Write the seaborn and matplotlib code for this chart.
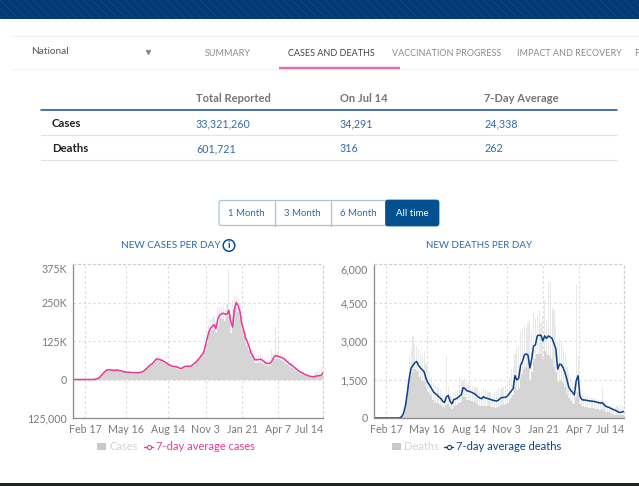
import numpy as np
import matplotlib
matplotlib.use('Agg')
import matplotlib.pyplot as plt
from matplotlib.patches import Rectangle, FancyBboxPatch, Circle
from matplotlib.lines import Line2D
import seaborn as sns

sns.set_style('white')
plt.rcParams['font.family'] = ['Lato', 'DejaVu Sans']
plt.rcParams['hatch.linewidth'] = 0.6

# all series sampled every 4 days from Jan 22 2020, thousands for cases
cases_avg = [0,0,0,0,0,0,0,0,0,0,
             0,0,1,2.5,5,11,18,25,30,32,
             31,30,30,30,31,29,28,26,24,24,
             23.5,23,22,22,22,22,23,24,27,32,
             38,44,48,53,60,67,66,64,62,59,
             55,51,47,44,42,42,41,38,35,38,
             41,43,43,42,45,50,55,61,68,76,
             82,100,125,150,165,172,178,165,195,208,
             213,215,212,212,225,190,170,230,250,240,
             220,180,160,135,122,105,85,75,64,64,
             65,66,63,58,53,52,52,58,70,77,
             77,74,72,70,66,60,55,50,46,41,
             36,31,26,23,20,17,14,12,10,9,
             9,11,12,13,14,24]
cases_low = [0,0,0,0,0,0,0,0,0,0,
             0,0,1,2,4,9,16,23,28,30,
             29,27,28,27,29,26,24,23,21,21,
             20,20,19,19,19,20,20,21,24,29,
             35,40,45,50,56,62,62,60,57,54,
             50,46,42,40,37,37,35,32,30,33,
             36,38,38,38,40,45,50,56,62,70,
             76,92,115,138,155,160,165,150,175,195,
             200,195,190,205,215,150,200,225,235,220,
             195,160,140,120,110,92,75,65,55,55,
             55,57,54,49,45,44,45,49,60,66,
             68,65,62,60,55,50,46,40,37,33,
             29,25,21,18,16,13,11,9,7,6,
             8,8,10,11,11,16]
cases_high = [0,0,0,0,0,0,0,0,0,0,
              0,0,1,3,6,13,20,28,33,35,
              34,33,33,33,34,32,31,29,27,27,
              26,26,25,25,25,25,26,27,31,36,
              42,48,53,58,66,74,72,70,67,64,
              60,56,52,49,47,47,46,42,40,43,
              46,48,48,47,51,56,62,68,76,85,
              92,112,140,175,200,195,205,190,235,235,
              235,240,230,245,360,205,255,270,275,265,
              240,205,180,150,135,120,100,95,85,80,
              80,78,75,68,62,60,62,100,85,172,
              90,88,85,80,75,70,62,56,52,46,
              42,36,30,26,24,20,18,16,14,14,
              18,24,26,30,40,45]

deaths_avg = [0,0,0,0,0,0,0,0,0,0,
              0,0,0,0,10,60,200,500,1000,1550,
              1950,2050,2150,2200,2050,1950,1880,1800,1550,1380,
              1280,1150,1020,950,900,820,760,660,600,820,
              880,650,550,720,740,780,850,900,1180,1150,
              1060,1050,1020,990,950,900,830,780,750,830,
              780,770,740,720,690,680,660,690,760,800,
              800,810,860,960,1050,1150,1650,1480,1550,2050,
              2200,2450,2500,2450,1950,2300,2800,2850,3200,3230,
              3220,3000,3200,3100,3200,3150,3100,2900,2700,1900,
              2100,2080,1950,1750,1500,1200,1080,1000,900,1450,
              1650,850,720,700,700,680,670,660,650,640,
              620,600,580,600,520,450,430,400,360,330,
              300,270,220,220,240,262]
deaths_low = [0,0,0,0,0,0,0,0,0,0,
              0,0,0,0,5,40,150,380,800,1250,
              1650,1800,1900,1850,1700,1600,1500,1450,1200,1000,
              950,850,720,640,600,560,500,420,380,520,
              560,420,360,480,500,520,580,620,800,820,
              720,700,680,650,620,580,520,480,470,520,
              480,470,450,430,410,400,390,410,470,500,
              520,560,580,680,780,900,1200,1100,1150,1550,
              1700,1900,2000,1950,1450,1800,2200,2300,2500,2500,
              2500,2300,2600,2500,2450,2400,2300,2000,1800,1400,
              1500,1500,1400,1200,950,780,650,600,550,800,
              1000,550,450,420,430,420,400,390,380,370,
              350,340,320,350,280,230,220,200,170,150,
              130,120,100,100,110,130]
deaths_high = [0,0,0,0,0,0,0,0,0,0,
               0,0,0,0,15,90,300,700,1500,2400,
               2700,3200,2900,2800,2700,2500,2400,2600,2100,1900,
               1800,1600,1400,1300,1250,1150,1100,950,900,2400,
               1250,950,800,1000,1050,1100,1600,1400,1500,1550,
               1400,1350,1300,1250,1200,1200,1150,1050,1000,1150,
               1100,1050,1000,1000,950,1000,1050,1150,1100,1150,
               1200,1250,1450,1600,1900,2000,2500,2700,2800,3400,
               3500,3600,3500,3700,3800,3400,4100,3900,4000,4200,
               3700,4000,4600,3800,5300,5300,4300,4200,3600,3000,
               3100,3000,2700,2500,2000,1800,1600,1500,1450,5200,
               2400,1400,900,850,850,800,800,780,780,760,
               750,720,700,1200,650,600,550,500,480,420,
               420,450,400,500,520,520]

# x ticks, days since Jan 22 2020
tick_days = [26, 115, 205, 286, 365, 441, 539]
tick_labels = ['Feb 17', 'May 16', 'Aug 14', 'Nov 3', 'Jan 21', 'Apr 7', 'Jul 14']
case_ticks = [-125, 0, 125, 250, 375]
case_tick_labels = ['125,000', '0', '125K', '250K', '375K']
death_ticks = [0, 1500, 3000, 4500, 6000]
death_tick_labels = ['0', '1,500', '3,000', '4,500', '6,000']

tabs = ['SUMMARY', 'CASES AND DEATHS', 'VACCINATION PROGRESS', 'IMPACT AND RECOVERY', 'F']
table_cols = ['Total Reported', 'On Jul 14', '7-Day Average']
table_cases = ['33,321,260', '34,291', '24,338']
table_deaths = ['601,721', '316', '262']
range_buttons = ['1 Month', '3 Month', '6 Month', 'All time']

PINK = '#e8389a'
NAVY = '#0b3f86'
BLUE = '#2f6aa8'
GREY = '#7a7a7a'
BAR = '#d5d5d5'
BAR_LIGHT = '#e8e8e8'
W, H = 639, 486


def chart_axes(fig, left, top, right, bottom):
    return fig.add_axes([left / W, 1 - bottom / H, (right - left) / W, (bottom - top) / H])


def draw_chart(ax, avg, low, high, line_color, ylim, yticks, ylabels):
    days = np.arange(len(avg)) * 4
    sns.barplot(x=days, y=high, native_scale=True, color=BAR_LIGHT, saturation=1,
                width=0.6, linewidth=0, errorbar=None, ax=ax)
    sns.barplot(x=days, y=low, native_scale=True, color=BAR, saturation=1,
                width=1, linewidth=0, errorbar=None, ax=ax)
    sns.lineplot(x=days, y=avg, color=line_color, linewidth=1.1, ax=ax)
    ax.set_xlim(0, 539)
    ax.set_ylim(*ylim)
    ax.set_xlabel('')
    ax.set_ylabel('')
    ax.set_axisbelow(True)
    ax.grid(True, color='#d9d9d9', linestyle=(0, (2, 2.5)), linewidth=0.8)
    ax.set_xticks(tick_days)
    ax.set_xticklabels(tick_labels, fontsize=7.7, color=GREY)
    ax.set_yticks(yticks)
    ax.set_yticklabels(ylabels, fontsize=7.7, color=GREY)
    ax.tick_params(axis='both', length=3, width=0.8, color='#8a8a8a', pad=1.5)
    ax.get_xticklabels()[-1].set_ha('right')
    ax.get_yticklabels()[-1].set_va('top')
    for side in ['left', 'bottom']:
        ax.spines[side].set_color('#8a8a8a')
        ax.spines[side].set_linewidth(0.9)
    for side in ['top', 'right']:
        ax.spines[side].set_color('#d0d0d0')
        ax.spines[side].set_linestyle((0, (2, 2.5)))
        ax.spines[side].set_linewidth(0.8)
    ax.set_facecolor('none')


fig = plt.figure(figsize=(W / 100, H / 100), dpi=100, facecolor='white')

# page furniture, in pixel coordinates
page = fig.add_axes([0, 0, 1, 1])
page.set_xlim(0, W)
page.set_ylim(H, 0)
page.axis('off')

page.add_patch(Rectangle((0, 0), W, 19, facecolor='#033a74', edgecolor='#0d4a88', hatch='\\\\\\\\', linewidth=0))
page.add_patch(Rectangle((0, 483), W, 3, facecolor='#20261c', linewidth=0))

page.plot([12, W], [36, 36], color='#f0f0f0', lw=0.8)
page.plot([12, W], [69, 69], color='#f0f0f0', lw=0.8)
page.text(31, 51, 'National', fontsize=7.2, color='#555555', va='center')
page.plot([148], [52], marker='v', ms=2.8, color='#888888', ls='none')
for x, label in zip([205, 288, 392, 517, 634.5], tabs):
    page.text(x, 53, label, fontsize=6.5, va='center',
              color='#444444' if label == 'CASES AND DEATHS' else '#8a8a8a')
page.plot([279, 400], [68, 68], color='#ea6bb0', lw=1.7, solid_capstyle='butt')

for x, label in zip([196, 340, 484], table_cols):
    page.text(x, 98, label, fontsize=8, color='#757575', va='center', fontweight='bold')
page.plot([41, 617], [110.5, 110.5], color='#0b4f96', lw=1.1)
page.plot([41, 617], [135.5, 135.5], color='#e2e2e2', lw=0.8)
page.plot([41, 617], [160.5, 160.5], color='#e2e2e2', lw=0.8)
page.text(52, 123, 'Cases', fontsize=8.2, color='#222222', va='center', fontweight='bold')
page.text(52, 148, 'Deaths', fontsize=8.2, color='#222222', va='center', fontweight='bold')
for x, a, b in zip([196, 340, 484], table_cases, table_deaths):
    page.text(x, 123.5, a, fontsize=7.7, color=BLUE, va='center')
    page.text(x, 148.5, b, fontsize=7.7, color=BLUE, va='center')

page.add_patch(FancyBboxPatch((219, 200.5), 219.5, 25, boxstyle='round,pad=0,rounding_size=2.5',
                              facecolor='white', edgecolor='#a9c3dc', linewidth=0.9))
page.add_patch(FancyBboxPatch((385.5, 200), 53.5, 26, boxstyle='round,pad=0,rounding_size=2.5',
                              facecolor='#03508f', edgecolor='#03508f', linewidth=0.5))
for x in [274.5, 330.5]:
    page.plot([x, x], [200.5, 225.5], color='#a9c3dc', lw=0.9)
for x, label in zip([246, 302, 358, 412], range_buttons):
    page.text(x, 213.5, label, fontsize=6.9, ha='center', va='center',
              color='white' if label == 'All time' else BLUE)

page.text(170.5, 245.5, 'NEW CASES PER DAY', fontsize=7.2, color=BLUE, ha='center', va='center')
page.text(479, 245.5, 'NEW DEATHS PER DAY', fontsize=7.0, color=BLUE, ha='center', va='center')
page.add_patch(Circle((229, 245.5), 5.8, facecolor='white', edgecolor='#0b4f96', linewidth=1.1))
page.text(229, 245.5, 'i', fontsize=7.5, color='#0b4f96', ha='center', va='center', fontweight='bold')

# hand built legends under each chart
for sx, name, lx, line_name, color in [(97, 'Cases', 144, '7-day average cases', PINK),
                                       (392, 'Deaths', 444, '7-day average deaths', NAVY)]:
    page.add_patch(Rectangle((sx, 443), 9, 7, facecolor='#c8c8c8', linewidth=0))
    page.text(sx + 12, 446.5, name, fontsize=8, color='#d4d4d4', va='center')
    page.add_line(Line2D([lx, lx + 9], [446.5, 446.5], color=color, lw=1))
    page.plot([lx + 4.5], [446.5], marker='o', ms=3, mfc='white', mec=color, mew=0.8)
    page.text(lx + 12, 446.5, line_name, fontsize=8, color=color, va='center')

ax1 = chart_axes(fig, 73, 264, 323, 418)
draw_chart(ax1, cases_avg, cases_low, cases_high, PINK, (-125, 375), case_ticks, case_tick_labels)

ax2 = chart_axes(fig, 374, 264, 624, 418)
draw_chart(ax2, deaths_avg, deaths_low, deaths_high, NAVY, (0, 6000), death_ticks, death_tick_labels)

fig.savefig('out.png', dpi=100)
